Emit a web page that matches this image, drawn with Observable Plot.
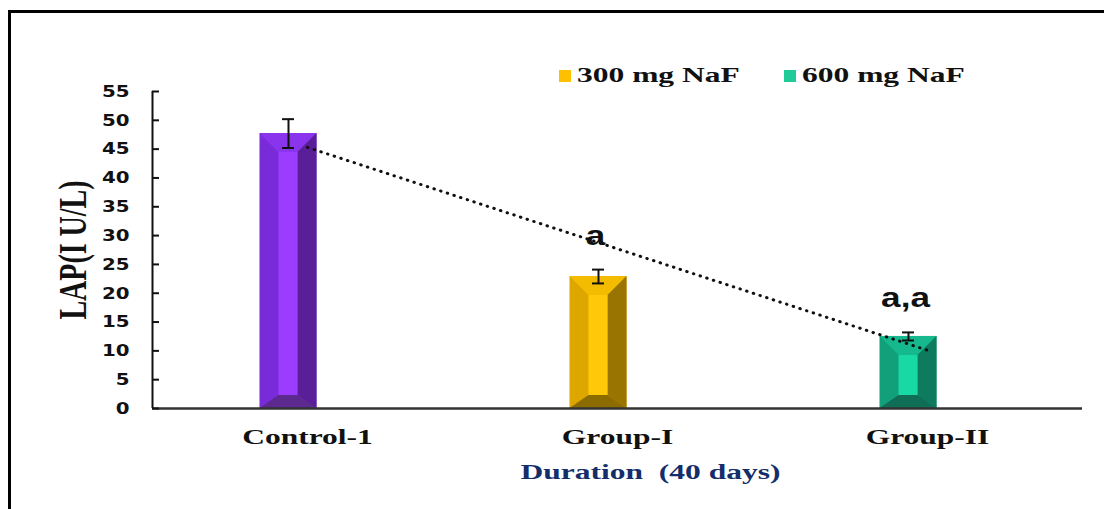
<!DOCTYPE html>
<html>
<head>
<meta charset="utf-8">
<script src="https://cdn.jsdelivr.net/npm/d3@7"></script>
<script src="https://cdn.jsdelivr.net/npm/@observablehq/plot@0.6"></script>
<style>
  html, body { margin: 0; padding: 0; background: #fff; width: 1104px; height: 509px; overflow: hidden; }
  #wrap { position: relative; width: 1104px; height: 509px; }
  #chart svg { position: absolute; left: 0; top: 0; }
  #chart svg text { white-space: pre; }
  #frame { position: absolute; left: 8px; top: 10px; width: 1200px; height: 600px;
           border-left: 3px solid #000; border-top: 3px solid #000; box-sizing: border-box; pointer-events: none; }
  .leg { position: absolute; top: 63px; display: flex; align-items: center;
         font: bold 21px "Liberation Serif", "Times New Roman", serif; color: #111;
         transform: scaleX(1.5); transform-origin: left center; white-space: nowrap; }
  .leg i { display: inline-block; width: 8px; height: 12px; margin-right: 4px; }
</style>
</head>
<body>
<div id="wrap">
  <div id="chart"></div>
  <div id="legend"></div>
  <div id="frame"></div>
</div>
<script>
// ---- data ----
const categories = ["Control-1", "Group-I", "Group-II"];
const means = [47.7, 22.9, 12.5];
const errors = [2.5, 1.2, 0.7];
const sigLabels = ["", "a", "a,a"];
const legendLabels = ["300 mg NaF", "600 mg NaF"];
const yTicks = [0, 5, 10, 15, 20, 25, 30, 35, 40, 45, 50, 55];
const yLabel = "LAP(I U/L)";
const xLabel = "Duration  (40 days)";

// ---- styles ----
const palette = [
  {left: "#7a2bd9", center: "#9c3cff", right: "#5a1f98", top: "#8a34ee", bottom: "#5c2a8e"},
  {left: "#dda700", center: "#ffc90a", right: "#9a7400", top: "#f4bc00", bottom: "#8c6b00"},
  {left: "#12a07b", center: "#18d9a4", right: "#0e7a5e", top: "#15b98d", bottom: "#0f6e55"}
];
const legendColors = ["#ffc000", "#1fcb97"];

const W = 1104, H = 509;
const ML = 152, MR = 22, MT = 91, MB = 101;
const BAND = (W - ML - MR) / categories.length;
const BAR_W = 57, BAR_DX = -19;
const BAR_INSET = (BAND - BAR_W) / 2;
const CAP_W = 12;

const table = categories.map((c, i) => ({cat: c, mean: means[i], err: errors[i], sig: sigLabels[i], i}));

// linear trendline (least squares over category index)
const xm = d3.mean(means.map((_, i) => i + 1));
const ym = d3.mean(means);
const slope = d3.sum(means.map((v, i) => (i + 1 - xm) * (v - ym))) / d3.sum(means.map((_, i) => (i + 1 - xm) ** 2));
const intercept = ym - slope * xm;
const trend = categories.map((c, i) => ({cat: c, fit: intercept + slope * (i + 1)}));

// bevel faces of each bar, drawn through Plot's scales
function bevels(index, scales) {
  const x = scales.x, y = scales.y;
  const bw = x.bandwidth ? x.bandwidth() : BAND;
  const g = d3.create("svg:g").attr("aria-label", "bar bevels");
  table.forEach((d) => {
    const p = palette[d.i];
    const cx = x(d.cat) + bw / 2 + BAR_DX;
    const x0 = cx - BAR_W / 2, x1 = cx + BAR_W / 2;
    const yt = y(d.mean), yb = y(0);
    const s = 19, st = Math.min(19, (yb - yt) / 3.5), sb = Math.min(13, (yb - yt) / 4);
    const ix0 = x0 + s, ix1 = x1 - s, iyt = yt + st, iyb = yb - sb;
    const poly = (pts, fill) => g.append("polygon").attr("points", pts.map(q => q.join(",")).join(" ")).attr("fill", fill);
    poly([[x0, yt], [x1, yt], [ix1, iyt], [ix0, iyt]], p.top);
    poly([[x1, yt], [x1, yb], [ix1, iyb], [ix1, iyt]], p.right);
    poly([[x0, yb], [x1, yb], [ix1, iyb], [ix0, iyb]], p.bottom);
    poly([[ix0, iyt], [ix1, iyt], [ix1, iyb], [ix0, iyb]], p.center);
  });
  return g.node();
}

const chart = Plot.plot({
  width: W, height: H,
  marginLeft: ML, marginRight: MR, marginTop: MT, marginBottom: MB,
  style: {background: "transparent", overflow: "visible"},
  x: {domain: categories, padding: 0, label: null},
  y: {domain: [0, 55], label: null},
  marks: [
    // bars (base = left face)
    Plot.barY(table, {x: "cat", y: "mean", fill: d => palette[d.i].left,
      insetLeft: BAR_INSET, insetRight: BAR_INSET, dx: BAR_DX}),
    bevels,
    // error bars
    Plot.ruleX(table, {x: "cat", y1: d => d.mean - d.err, y2: d => d.mean + d.err, dx: BAR_DX, stroke: "#111", strokeWidth: 2}),
    Plot.tickY(table, {x: "cat", y: d => d.mean + d.err, dx: BAR_DX, insetLeft: (BAND - CAP_W) / 2, insetRight: (BAND - CAP_W) / 2, stroke: "#111", strokeWidth: 2}),
    Plot.tickY(table, {x: "cat", y: d => d.mean - d.err, dx: BAR_DX, insetLeft: (BAND - CAP_W) / 2, insetRight: (BAND - CAP_W) / 2, stroke: "#111", strokeWidth: 2}),
    // trendline
    Plot.line(trend, {x: "cat", y: "fit", stroke: "#111", strokeWidth: 3, strokeDasharray: "0.5,6.5", strokeLinecap: "round"}),
    // significance letters
    Plot.text(table.filter(d => d.sig), {x: "cat", y: d => d.mean + d.err, text: "sig", dx: BAR_DX - 3, dy: -25,
      lineAnchor: "bottom", fontFamily: "Liberation Sans, Arial, sans-serif", fontWeight: "bold", fontSize: 27, fill: "#111"}),
    // axes
    Plot.ruleY([0], {stroke: "#333", strokeWidth: 2.5}),
    Plot.ruleX([categories[0]], {y1: 0, y2: 55, dx: -BAND / 2, stroke: "#111", strokeWidth: 2}),
    Plot.tickY(yTicks, {y: d => d, insetRight: W - ML - MR - 7, stroke: "#111", strokeWidth: 2}),
    Plot.axisY({ticks: yTicks, tickSize: 0, tickPadding: 23, tickFormat: d => String(d),
      fontFamily: "DejaVu Sans, Verdana, sans-serif", fontWeight: "bold", fontSize: 16.5, fill: "#111"}),
    Plot.axisX({tickSize: 0, tickPadding: 21, fontFamily: "Liberation Serif, Times New Roman, serif",
      fontWeight: "bold", fontSize: 21, fill: "#111", label: null}),
    Plot.text([yLabel], {frameAnchor: "left", textAnchor: "middle", dx: -80, rotate: -90, text: d => d,
      fontFamily: "Liberation Serif, Times New Roman, serif", fontWeight: "bold", fontSize: 28, fill: "#111"}),
    Plot.text([xLabel], {frameAnchor: "bottom", textAnchor: "middle", dx: 33, dy: 70, text: d => d,
      fontFamily: "Liberation Serif, Times New Roman, serif", fontWeight: "bold", fontSize: 21, fill: "#142d6b"})
  ]
});
document.getElementById("chart").appendChild(chart);

// legend
const legend = document.getElementById("legend");
const legX = [559, 784];
legendLabels.forEach((lab, i) => {
  const el = document.createElement("div");
  el.className = "leg";
  el.style.left = legX[i] + "px";
  el.innerHTML = `<i style="background:${legendColors[i]}"></i>${lab}`;
  legend.appendChild(el);
});

// the source figure is horizontally stretched: widen horizontal text glyphs
function stretchText(t, factor) {
  const w = t.getComputedTextLength();
  if (w > 0) {
    t.setAttribute("textLength", (w * factor).toFixed(1));
    t.setAttribute("lengthAdjust", "spacingAndGlyphs");
  }
}
const allText = Array.from(chart.querySelectorAll("text"));
allText.forEach(t => {
  const s = t.textContent;
  if (categories.includes(s) || s === xLabel) stretchText(t, 1.5);
  else if (yTicks.map(String).includes(s)) stretchText(t, 1.2);
  else if (sigLabels.includes(s) && s) stretchText(t, 1.3);
  else if (s === yLabel) {
    const tr = t.getAttribute("transform") || "";
    t.setAttribute("transform", tr + " scale(1,1.45)");
  }
});
</script>
</body>
</html>
